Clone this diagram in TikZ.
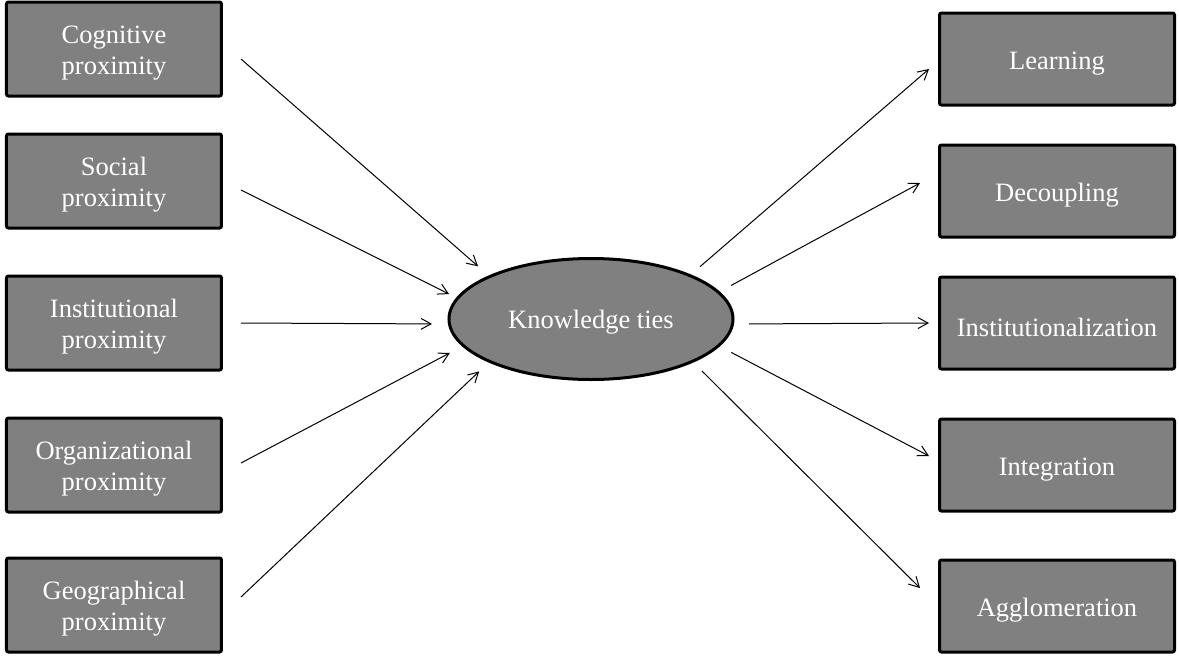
\documentclass[tikz,border=0pt]{standalone}
\usepackage{fontspec}
\setmainfont{Liberation Serif}
\usetikzlibrary{shapes,arrows.meta,positioning}
\tikzstyle{block} = [rectangle, draw, fill=black!50, text=white, line width=1.5pt,
    text width=100pt, text centered, rounded corners=1pt, minimum width=107.5pt, minimum height=47pt, inner sep=0pt,
    execute at begin node={\rule{0pt}{13.25pt}}]
\tikzstyle{outcome} = [block, text width=112pt, minimum width=117.5pt, minimum height=46pt]
\tikzstyle{hub} = [ellipse, draw, fill=black!50, text=white, line width=1.5pt,
    minimum width=142pt, minimum height=60.5pt, inner sep=0pt, execute at begin node={\rule{0pt}{12pt}}]
\tikzstyle{line} = [draw, line width=0.5pt, -{Straight Barb[length=5pt,width=5.5pt]}]

\begin{document}
\begin{tikzpicture}[node distance=70pt, auto, font=\fontsize{13.25}{15.5}\selectfont]
		\useasboundingbox (-295.5pt,-168pt) rectangle (294pt,159.5pt);
		\node [hub] (ties) {Knowledge ties};
		\node [block, node distance=238.5pt, left of=ties, yshift=-2pt] (inst) {Institutional\\proximity};
		\node [block, node distance=71pt, above of=inst] (social) {Social\\proximity};
		\node [block, node distance=66pt, above of=social] (cog) {Cognitive\\proximity};
		\node [block, node distance=71pt, below of=inst] (org) {Organizational\\proximity};
		\node [block, node distance=70pt, below of=org] (geo) {Geographical\\proximity};
		\node [outcome, node distance=233pt, right of=ties, yshift=-2pt] (instz) {Institutionalization};
		\node [outcome, node distance=66pt, above of=instz] (decoup) {Decoupling};
		\node [outcome, node distance=66pt, above of=decoup] (learn) {Learning};
		\node [outcome, node distance=71pt, below of=instz] (integ) {Integration};
		\node [outcome, node distance=70.5pt, below of=integ] (agglo) {Agglomeration};
		
		\path [line, shorten >=7pt] ([xshift=9pt,yshift=-5pt]cog.east) -- (ties.157);
		\path [line, shorten >=4pt] ([xshift=9pt,yshift=-4.5pt]social.east) -- (ties.171);
		\path [line, shorten >=8pt] ([xshift=9pt]inst.east) -- (ties.182);
		\path [line, shorten >=7pt] ([xshift=9pt,yshift=1pt]org.east) -- (ties.192);
		\path [line, shorten >=6.5pt] ([xshift=9pt,yshift=4pt]geo.east) -- (ties.203);
		\path [line, shorten <=6pt] (ties.24) -- ([xshift=-4.5pt,yshift=-5pt]learn.west);
		\path [line, shorten <=6.5pt] (ties.12) -- ([xshift=-9pt,yshift=4pt]decoup.west);
		\path [line, shorten <=7.5pt] (ties.358) -- ([xshift=-4.5pt]instz.west);
		\path [line, shorten <=6.5pt] (ties.348) -- ([xshift=-4.5pt,yshift=4.5pt]integ.west);
		\path [line, shorten <=6pt] (ties.337) -- ([xshift=-9pt,yshift=9pt]agglo.west);
	\end{tikzpicture}
\end{document}
